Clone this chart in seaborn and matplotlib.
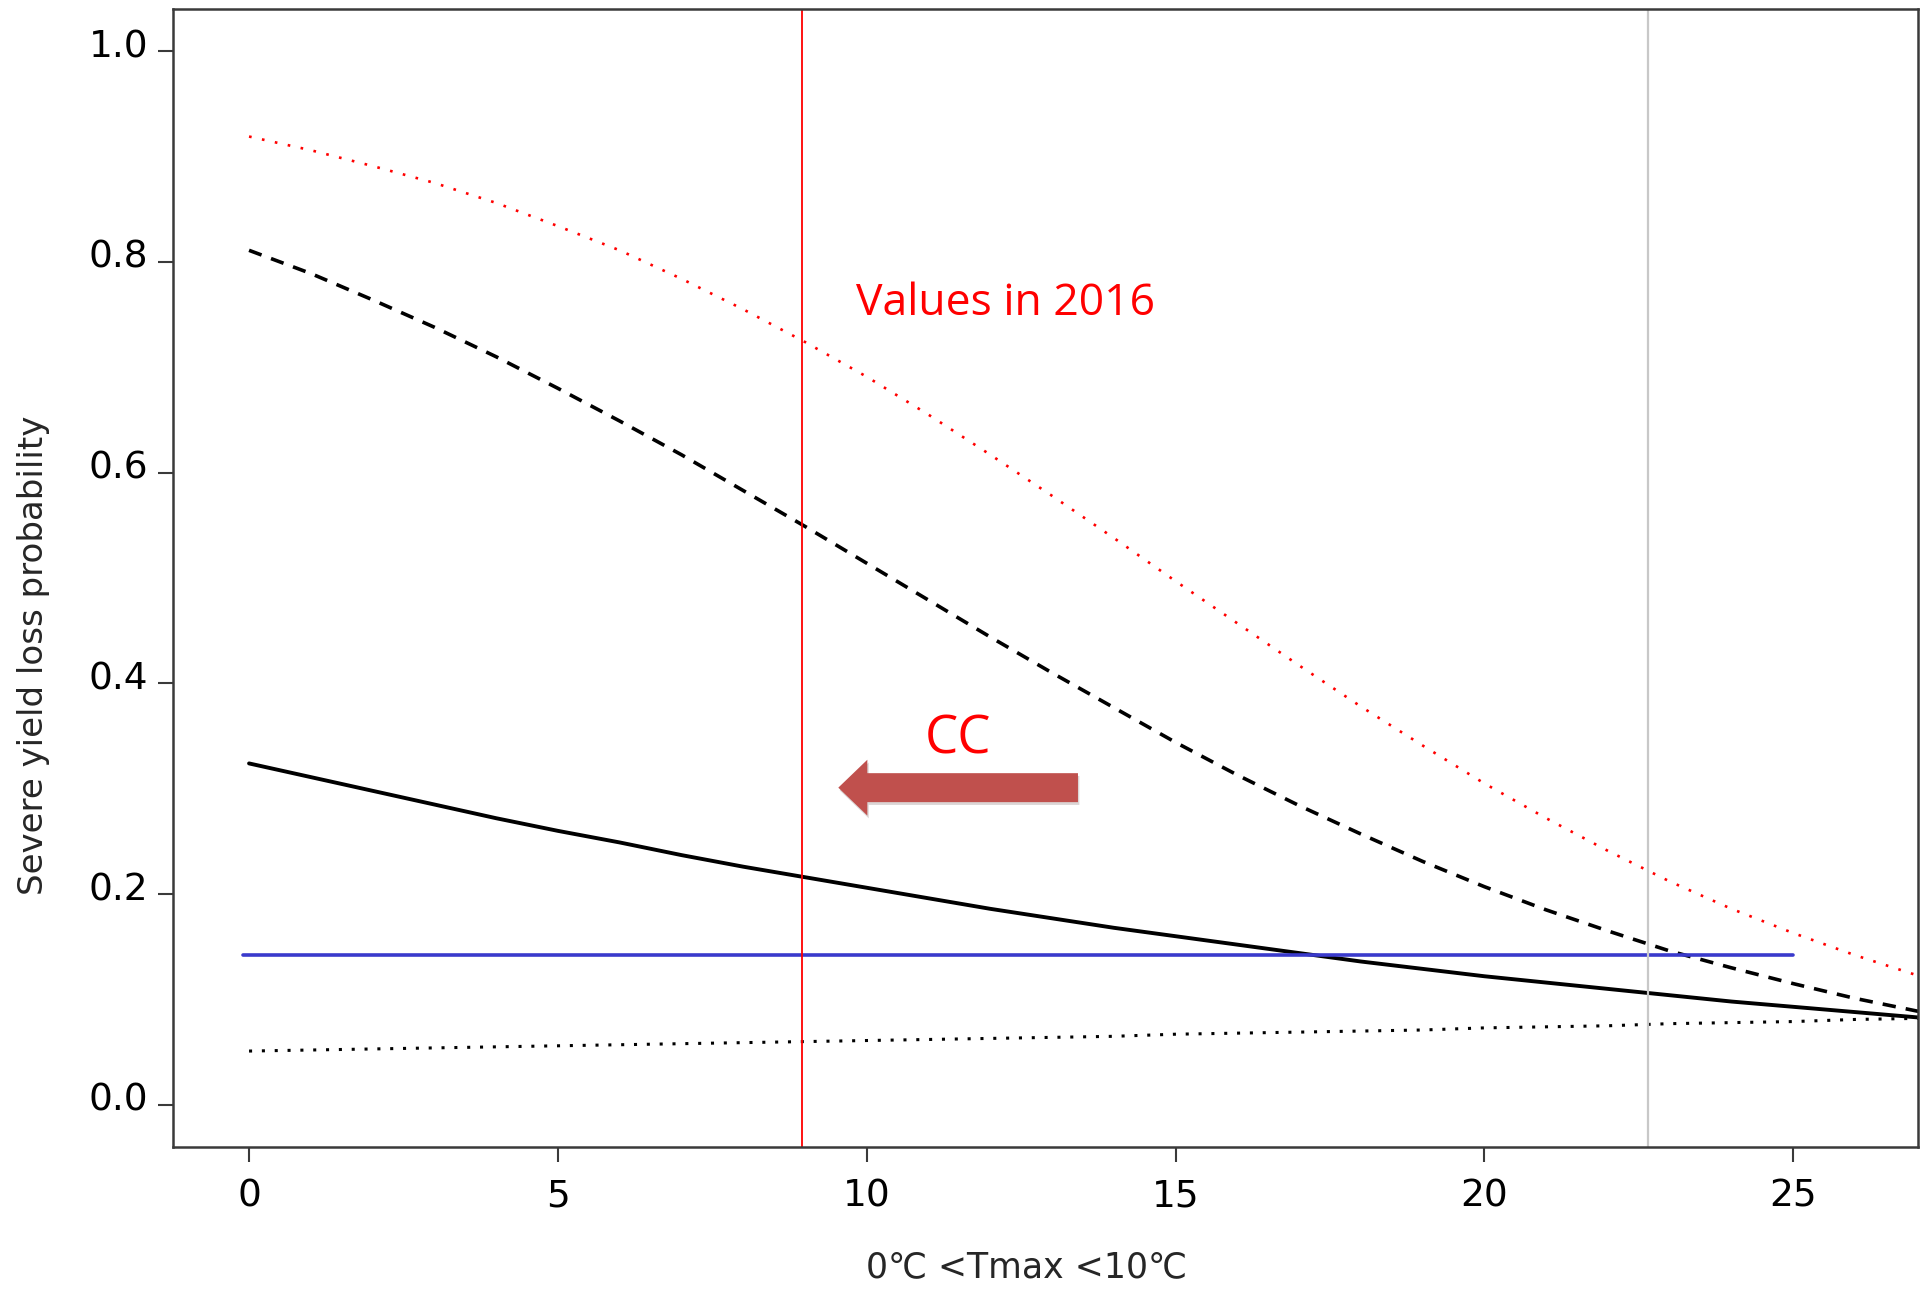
import numpy as np
import pandas as pd
import seaborn as sns
import matplotlib
matplotlib.use("Agg")
import matplotlib.pyplot as plt
import matplotlib.transforms as mtransforms
from matplotlib.patches import FancyArrow
import matplotlib.patheffects as pe

# Number of days with 0 < Tmax < 10 C
tmax_days = list(range(0, 29))

# Severe yield loss probability for each scenario
prob_red_dotted = [0.919, 0.906, 0.891, 0.875, 0.856, 0.834, 0.811, 0.784,
                   0.755, 0.724, 0.691, 0.655, 0.617, 0.578, 0.538, 0.497,
                   0.457, 0.417, 0.378, 0.341, 0.305, 0.272, 0.241, 0.212,
                   0.186, 0.163, 0.142, 0.123, 0.107]
prob_dashed = [0.811, 0.789, 0.764, 0.738, 0.710, 0.680, 0.649, 0.617,
               0.583, 0.549, 0.514, 0.479, 0.444, 0.410, 0.377, 0.344,
               0.313, 0.284, 0.257, 0.231, 0.207, 0.185, 0.165, 0.146,
               0.130, 0.115, 0.101, 0.089, 0.078]
prob_solid = [0.324, 0.311, 0.298, 0.285, 0.272, 0.260, 0.249, 0.237,
              0.226, 0.216, 0.206, 0.196, 0.186, 0.177, 0.168, 0.160,
              0.152, 0.144, 0.136, 0.129, 0.122, 0.116, 0.110, 0.104,
              0.098, 0.093, 0.088, 0.083, 0.079]
prob_dotted = [0.051, 0.052, 0.053, 0.054, 0.055, 0.056, 0.057, 0.058,
               0.059, 0.060, 0.061, 0.062, 0.063, 0.064, 0.065, 0.067,
               0.068, 0.069, 0.070, 0.071, 0.073, 0.074, 0.075, 0.077,
               0.078, 0.079, 0.081, 0.082, 0.083]

# Reference level (blue) and marker positions
baseline_x = [-0.1, 25.0]
baseline_y = [0.142, 0.142]
value_2016 = 8.95
grey_marker = 22.65

x_ticks = [0, 5, 10, 15, 20, 25]
y_ticks = [0.0, 0.2, 0.4, 0.6, 0.8, 1.0]
y_tick_labels = ["0.0", "0.2", "0.4", "0.6", "0.8", "1.0"]

sns.set_theme(style="white")
plt.rcParams["font.family"] = ["DejaVu Sans"]

fig = plt.figure(figsize=(19.23, 12.90), dpi=100)
ax = fig.add_axes([0.0900, 0.1109, 0.9074, 0.8821])

sns.lineplot(x=tmax_days, y=prob_red_dotted, ax=ax, color="red", lw=1.9,
             linestyle=(0, (1, 4.0)), sort=False, errorbar=None)
sns.lineplot(x=tmax_days, y=prob_dashed, ax=ax, color="black", lw=2.6,
             linestyle=(0, (3.7, 2.8)), sort=False, errorbar=None)
sns.lineplot(x=tmax_days, y=prob_solid, ax=ax, color="black", lw=2.8,
             linestyle="-", sort=False, errorbar=None)
sns.lineplot(x=tmax_days, y=prob_dotted, ax=ax, color="black", lw=2.2,
             linestyle=(0, (1, 3.2)), sort=False, errorbar=None)
sns.lineplot(x=baseline_x, y=baseline_y, ax=ax, color="#3a3acc", lw=2.6,
             sort=False, errorbar=None)

ax.axvline(value_2016, color="red", lw=1.3)
ax.axvline(grey_marker, color="#c8c8c8", lw=1.6)

ax.set_xlim(-1.23, 27.02)
ax.set_ylim(-0.04, 1.04)
ax.set_xticks(x_ticks)
ax.set_xticklabels([str(t) for t in x_ticks])
ax.set_yticks(y_ticks)
ax.set_yticklabels(y_tick_labels)

for sp in ax.spines.values():
    sp.set_visible(True)
    sp.set_color("#3a3a3a")
    sp.set_linewidth(1.8)

ax.tick_params(axis="both", which="major", direction="out", length=11,
               width=1.5, color="#3a3a3a", labelsize=27, labelcolor="black",
               bottom=True, left=True)
ax.tick_params(axis="y", pad=7)
ax.tick_params(axis="x", pad=12)
ax.grid(False)

# y tick labels sit slightly above their ticks
lift = mtransforms.ScaledTranslation(0, 0.08, fig.dpi_scale_trans)
for lbl in ax.get_yticklabels():
    lbl.set_transform(lbl.get_transform() + lift)

# Annotations
ax.text(9.83, 0.760, "Values in 2016", color="red", fontsize=32,
        family=["Open Sans", "DejaVu Sans"], ha="left", va="center")
ax.text(11.48, 0.346, "CC", color="red", fontsize=38,
        family=["Open Sans", "DejaVu Sans"], ha="center", va="center")

arrow = FancyArrow(13.42, 0.301, -3.88, 0.0, width=0.0275, head_width=0.053,
                   head_length=0.47, length_includes_head=True,
                   color="#c0504d", lw=0, zorder=5)
arrow.set_path_effects([pe.SimplePatchShadow(offset=(1, -2), alpha=0.18),
                        pe.Normal()])
ax.add_patch(arrow)

fig.text(0.0172, 0.492, "Severe yield loss probability", rotation=90,
         fontsize=24.5, ha="center", va="center")
fig.text(0.534, 0.018, "0\u2103 <Tmax <10\u2103", fontsize=25,
         ha="center", va="center")

fig.savefig("out.png", dpi=100)
